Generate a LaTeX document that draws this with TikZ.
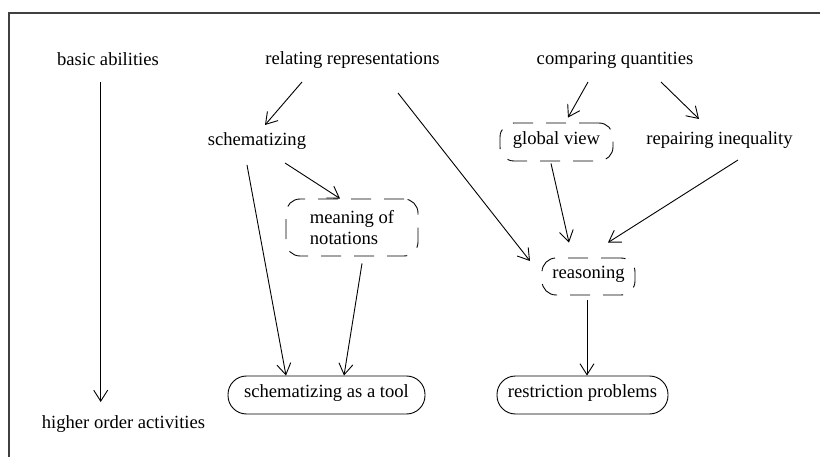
\documentclass[tikz,border=0pt]{standalone}
\usepackage{fontspec}
\setmainfont{Liberation Serif}
\usetikzlibrary{arrows.meta,calc}
\tikzset{
  lbl/.style={inner sep=0pt, anchor=base, font=\fontsize{18.6}{21.5}\selectfont},
  dbox/.style={draw, line width=0.9pt, rounded corners=14pt, dash pattern=on 20pt off 13pt,
    inner sep=2pt, font=\fontsize{18.6}{21.5}\selectfont, text height=0.7em, text depth=0.25em},
  sbox/.style={draw, line width=0.9pt, rounded corners=18.5pt, minimum height=38pt,
    inner sep=2pt, font=\fontsize{18.6}{21.5}\selectfont, text height=0.7em, text depth=0.25em},
  conn/.style={line width=0.9pt, -{Straight Barb[length=11pt,width=14pt,line width=0.9pt]}},
  frame/.style={line width=1.1pt, black!75}
}
\begin{document}
\begin{tikzpicture}[x=1pt,y=-1pt]
\useasboundingbox (0,0) rectangle (820,457);
\coordinate (fbl) at (9,457);
\coordinate (ftl) at (9,13);
\coordinate (ftr) at (820,13);
\draw[frame] (fbl) -- (ftl) -- (ftr);

\node[lbl] (basic) at (108,66) {basic abilities};
\node[lbl] (higher) at (123.5,428) {higher order activities};
\node[lbl] (rel) at (352.5,65) {relating representations};
\node[lbl] (comp) at (615,65) {comparing quantities};
\node[lbl] (schem) at (257,146) {schematizing};
\node[lbl] (rep) at (719.5,145) {repairing inequality};
\node[dbox, minimum width=113pt, minimum height=38pt] (glob) at (556.5,142) {global view};
\node[dbox, minimum width=132pt, minimum height=57pt, align=left, text height=, text depth=] (mean) at (352,227.5) {meaning of\\notations};
\node[dbox, minimum width=93pt, minimum height=37pt] (reas) at (588.5,276.5) {reasoning};
\node[sbox, minimum width=197pt] (tool) at (326.5,395) {schematizing as a tool};
\node[sbox, minimum width=171pt] (restr) at (582.5,395) {restriction problems};

\draw[conn] ($(basic.base)+(-7.3,16)$) -- ($(higher.base)+(-22.8,-26)$);
\draw[conn] ($(rel.base)+(-50.5,17)$) -- ($(schem.base)+(8,-21)$);
\draw[conn] ($(rel.base)+(45.5,28)$) -- ($(reas.center)+(-58.5,-15.5)$);
\draw[conn] ($(schem.base)+(28,17)$) -- ($(mean.north)+(-12,0)$);
\draw[conn] ($(schem.base)+(-10,19)$) -- ($(tool.north)+(-40.5,0)$);
\draw[conn] ($(mean.south)+(10,7)$) -- ($(tool.north)+(17.5,0)$);
\draw[conn] ($(comp.base)+(-27,17)$) -- ($(glob.north)+(11.5,-5)$);
\draw[conn] ($(comp.base)+(46,17)$) -- ($(rep.base)+(-20.5,-26)$);
\draw[conn] ($(glob.south)+(-5.5,2)$) -- ($(reas.north)+(-19.5,-15)$);
\draw[conn] ($(rep.base)+(18.5,15)$) -- ($(reas.north)+(19.5,-15)$);
\draw[conn] ($(reas.south)+(-1.5,5)$) -- ($(restr.north)+(4.5,0)$);
\end{tikzpicture}
\end{document}
